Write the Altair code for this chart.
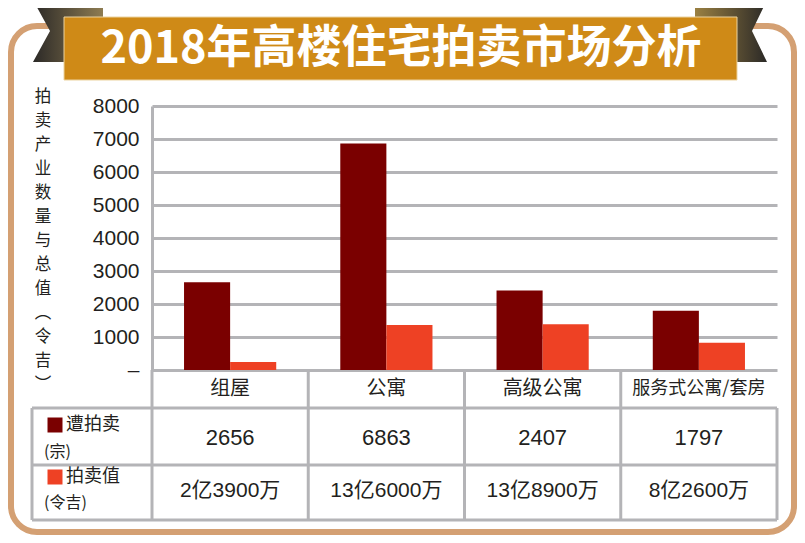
import altair as alt
import pandas as pd

# ---------------- data ----------------
TITLE = "2018年高楼住宅拍卖市场分析"
Y_TITLE = "拍卖产业数量与总值︵令吉︶"
CATEGORIES = ["组屋", "公寓", "高级公寓", "服务式公寓/套房"]
SERIES = ["遭拍卖", "拍卖值"]
SERIES_UNITS = ["(宗)", "(令吉)"]
AUCTION_COUNT = [2656, 6863, 2407, 1797]
AUCTION_VALUE_MILLION = [239, 1360, 1389, 826]
AUCTION_VALUE_TEXT = ["2亿3900万", "13亿6000万", "13亿8900万", "8亿2600万"]
Y_TICKS = [0, 1000, 2000, 3000, 4000, 5000, 6000, 7000, 8000]

# ---------------- style / layout ----------------
SERIES_COLORS = ["#7A0000", "#EE4124"]
GRID = "#B4B4B7"
INK = "#231F20"
CJK = "Noto Sans CJK SC"
LATIN = "Liberation Sans, Noto Sans CJK SC"

X0, Y0 = 152, 106          # page position of plot-area origin
W, H = 625, 264            # plot area
PAGE_W, PAGE_H = 789, 527  # whole svg


def px(x):
    return x - X0


def py(y):
    return y - Y0


bars_df = pd.DataFrame(
    [{"category": c, "series": SERIES[0], "value": a} for c, a in zip(CATEGORIES, AUCTION_COUNT)]
    + [{"category": c, "series": SERIES[1], "value": v} for c, v in zip(CATEGORIES, AUCTION_VALUE_MILLION)]
)
table_df = pd.DataFrame({
    "category": CATEGORIES,
    "count_text": [str(v) for v in AUCTION_COUNT],
    "value_text": AUCTION_VALUE_TEXT,
})
one = pd.DataFrame({"k": [0]})

xcat = alt.X(
    "category:N",
    sort=CATEGORIES,
    scale=alt.Scale(domain=CATEGORIES, paddingInner=0.41, paddingOuter=0.205),
    axis=None,
)
color = alt.Color(
    "series:N",
    scale=alt.Scale(domain=SERIES, range=SERIES_COLORS),
    legend=None,
)

layers = []

# rounded frame
layers.append(
    alt.Chart(one).mark_rect(filled=False, stroke="#D4A073", strokeWidth=6, cornerRadius=26).encode(
        x=alt.value(px(11)), x2=alt.value(px(794)), y=alt.value(py(26)), y2=alt.value(py(532))
    )
)

# ribbon tails
left_grad = alt.Gradient(
    gradient="linear", x1=0, x2=1, y1=0, y2=0,
    stops=[alt.GradientStop(color="#2B2927", offset=0), alt.GradientStop(color="#8E7C52", offset=1)],
)
right_grad = alt.Gradient(
    gradient="linear", x1=0, x2=1, y1=0, y2=0,
    stops=[alt.GradientStop(color="#9A8042", offset=0), alt.GradientStop(color="#2B2927", offset=1)],
)
layers.append(
    alt.Chart(one).mark_point(
        shape="M-1,-0.886L1,-0.886L1,0.886L-1,0.886L-0.514,0Z",
        size=4900, filled=True, fill=left_grad, strokeWidth=0, opacity=1,
    ).encode(x=alt.value(px(68)), y=alt.value(py(31)))
)
layers.append(
    alt.Chart(one).mark_point(
        shape="M-1,-0.861L1,-0.861L0.583,0L1,0.861L-1,0.861Z",
        size=5184, filled=True, fill=right_grad, strokeWidth=0, opacity=1,
    ).encode(x=alt.value(px(731)), y=alt.value(py(31)))
)

# banner
layers.append(
    alt.Chart(one).mark_rect(color="#CF8A17", stroke="#EBD3A0", strokeWidth=1).encode(
        x=alt.value(px(64)), x2=alt.value(px(737)), y=alt.value(py(17)), y2=alt.value(py(80))
    )
)
layers.append(
    alt.Chart(one).mark_text(
        font=CJK, fontSize=45, fontWeight="bold", color="white", align="center", baseline="middle"
    ).encode(text=alt.value(TITLE), x=alt.value(px(401)), y=alt.value(py(49)))
)

# vertical y title (one character per line)
layers.append(
    alt.Chart(one).mark_text(
        font=CJK, fontSize=16.5, color=INK, align="center", baseline="top", lineHeight=24
    ).encode(text=alt.value(list(Y_TITLE)), x=alt.value(px(43)), y=alt.value(py(89)))
)

# bars with y axis
layers.append(
    alt.Chart(bars_df).mark_bar().encode(
        x=xcat,
        xOffset=alt.XOffset("series:N", sort=SERIES, scale=alt.Scale(domain=SERIES, paddingInner=0, paddingOuter=0)),
        y=alt.Y(
            "value:Q",
            scale=alt.Scale(domain=[0, 8000], nice=False),
            axis=alt.Axis(
                values=Y_TICKS, format="d",
                labelExpr="datum.value == 0 ? '–' : datum.label",
                ticks=False, grid=True, gridColor=GRID, gridWidth=3,
                domain=True, domainColor=GRID, domainWidth=3,
                labelFont="Liberation Sans", labelFontSize=21, labelColor=INK, labelPadding=13,
                title=None,
            ),
        ),
        color=color,
    )
)

# table rules
step = W / len(CATEGORIES)
vlines = [(px(152), py(370), py(520)), (px(32), py(408), py(520)), (px(777), py(408), py(520))]
vlines += [(step * k, py(370), py(520)) for k in range(1, len(CATEGORIES))]
hlines = [(px(32), px(777), py(408)), (px(32), px(777), py(465)), (px(32), px(777), py(520))]
for x, y1, y2 in vlines:
    layers.append(
        alt.Chart(one).mark_rule(color=GRID, strokeWidth=3).encode(
            x=alt.value(x), y=alt.value(y1), y2=alt.value(y2)
        )
    )
for x1, x2, y in hlines:
    layers.append(
        alt.Chart(one).mark_rule(color=GRID, strokeWidth=3).encode(
            x=alt.value(x1), x2=alt.value(x2), y=alt.value(y)
        )
    )

# category header labels
layers.append(
    alt.Chart(table_df).mark_text(font=CJK, color=INK, baseline="middle").encode(
        x=xcat,
        y=alt.value(py(389)),
        text="category:N",
        size=alt.condition("length(datum.category) > 4", alt.value(18), alt.value(20)),
    )
)
# table values
layers.append(
    alt.Chart(table_df).mark_text(font=LATIN, fontSize=22, color=INK, baseline="middle").encode(
        x=xcat, y=alt.value(py(438)), text="count_text:N"
    )
)
layers.append(
    alt.Chart(table_df).mark_text(font=LATIN, fontSize=21, color=INK, baseline="middle").encode(
        x=xcat, y=alt.value(py(491)), text="value_text:N"
    )
)

# row headers with colour keys
row_key_y = [425, 477]
row_unit_y = [452, 503]
for i, s in enumerate(SERIES):
    sdf = pd.DataFrame({"series": [s], "unit": [SERIES_UNITS[i]]})
    layers.append(
        alt.Chart(sdf).mark_square(size=225, opacity=1, filled=True).encode(
            x=alt.value(px(55)), y=alt.value(py(row_key_y[i])), color=color
        )
    )
    layers.append(
        alt.Chart(sdf).mark_text(font=CJK, fontSize=18, color=INK, align="left", baseline="middle").encode(
            x=alt.value(px(66)), y=alt.value(py(row_key_y[i])), text="series:N"
        )
    )
    layers.append(
        alt.Chart(sdf).mark_text(font=CJK, fontSize=16, color=INK, align="left", baseline="middle").encode(
            x=alt.value(px(44)), y=alt.value(py(row_unit_y[i])), text="unit:N"
        )
    )

chart = alt.layer(*layers).properties(
    width=W,
    height=H,
    padding={"left": X0 - 8, "top": Y0 - 8, "right": PAGE_W - (X0 - 8) - W, "bottom": PAGE_H - (Y0 - 8) - H},
    autosize=alt.AutoSizeParams(type="none"),
    background="white",
).configure_view(stroke=None)

chart.save("out.html", embed_options={"renderer": "svg", "actions": False})
